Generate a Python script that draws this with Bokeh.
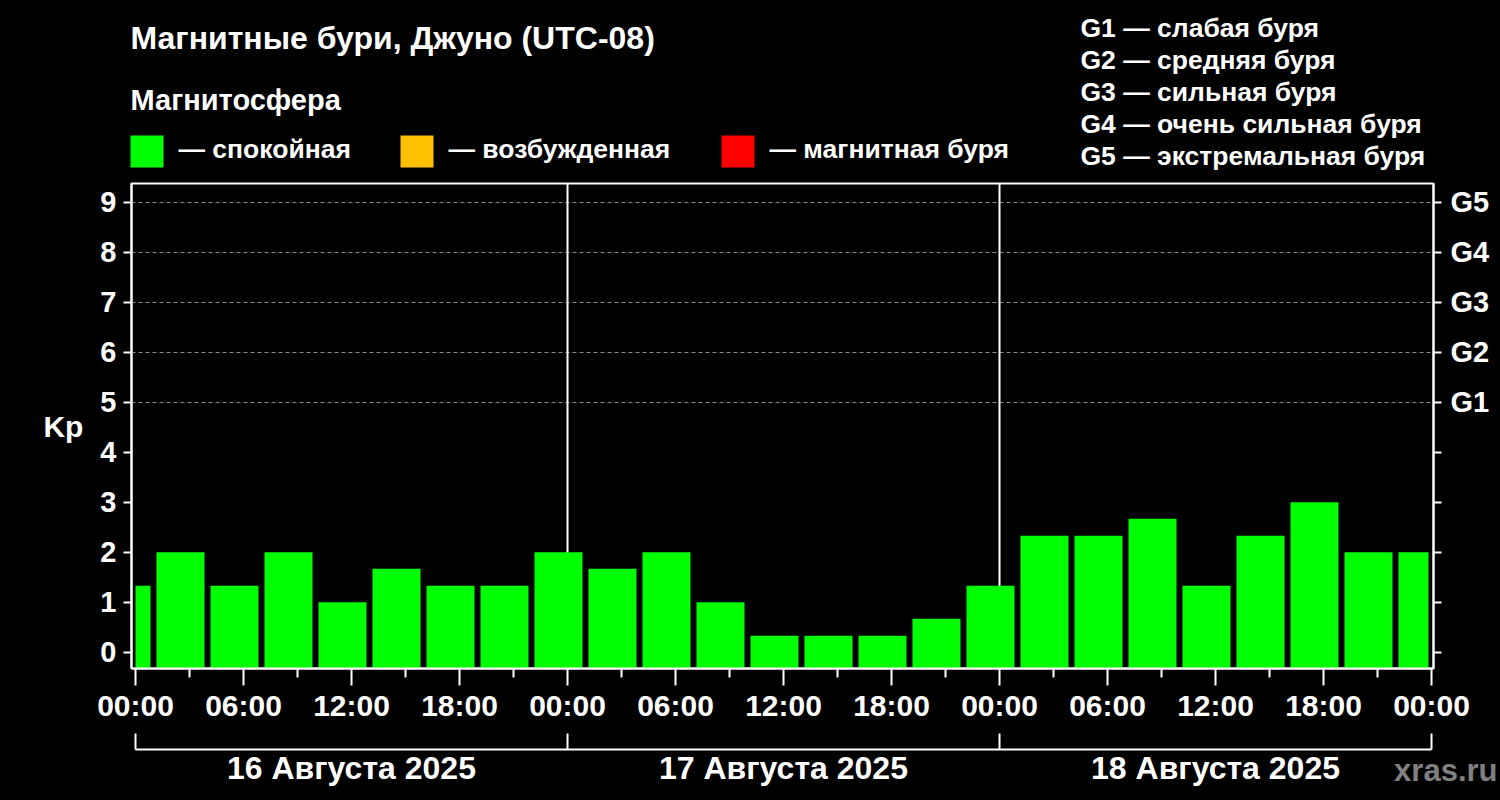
from bokeh.plotting import figure
from bokeh.layouts import column
from bokeh.models import (Range1d, LinearAxis, FixedTicker, Label, Span,
                          ColumnDataSource, Grid)
from bokeh.core.properties import value
from bokeh.embed import file_html
from bokeh.resources import INLINE

# ---------------- data ----------------
bar_start_hours = [-2, 1, 4, 7, 10, 13, 16, 19, 22,
                   25, 28, 31, 34, 37, 40, 43, 46,
                   49, 52, 55, 58, 61, 64, 67, 70]
kp_values = [1.33, 2.0, 1.33, 2.0, 1.0, 1.67, 1.33, 1.33, 2.0,
             1.67, 2.0, 1.0, 0.33, 0.33, 0.33, 0.67, 1.33,
             2.33, 2.33, 2.67, 1.33, 2.33, 3.0, 2.0, 2.0]
interval_hours = 3
hour_ticks = [0, 6, 12, 18, 24, 30, 36, 42, 48, 54, 60, 66, 72]
hour_labels = ["00:00", "06:00", "12:00", "18:00",
               "00:00", "06:00", "12:00", "18:00",
               "00:00", "06:00", "12:00", "18:00", "00:00"]
day_bounds = [0, 24, 48, 72]
day_labels = ["16 Августа 2025", "17 Августа 2025", "18 Августа 2025"]
kp_ticks = [0, 1, 2, 3, 4, 5, 6, 7, 8, 9]
g_levels = [5, 6, 7, 8, 9]
g_labels = ["G1", "G2", "G3", "G4", "G5"]
g_descriptions = ["G1 — слабая буря", "G2 — средняя буря", "G3 — сильная буря",
                  "G4 — очень сильная буря", "G5 — экстремальная буря"]
title_text = "Магнитные бури, Джуно (UTC-08)"
subtitle_text = "Магнитосфера"
legend_labels = ["— спокойная", "— возбужденная", "— магнитная буря"]
legend_colors = ["#00ff00", "#ffc000", "#ff0000"]
watermark = "xras.ru"

FONT = "Liberation Sans"
WHITE = "white"
BLACK = "black"
W = 1500
HEADER_H = 175
FRAME_L, FRAME_W, FRAME_H = 131, 1302, 485
MAIN_TOP, MAIN_BOTTOM = 8, 60
FOOTER_TOP = HEADER_H + MAIN_TOP + FRAME_H + MAIN_BOTTOM
FOOTER_H = 800 - FOOTER_TOP
BASELINE_FIX = 0.4   # em; bokeh's alphabetic anchor sits lower than the true baseline

# ---------------- derived ----------------
gap = 1.0 / 6.0
x_lo, x_hi = day_bounds[0], day_bounds[-1]
lefts = [max(s + gap, x_lo) for s in bar_start_hours]
rights = [min(s + interval_hours - gap, x_hi - gap) for s in bar_start_hours]
x_start, x_end = -0.222, 72.111
y_start, y_end = -0.326, 9.374


def kp_color(v):
    if v >= 5:
        return legend_colors[2]
    if v >= 4:
        return legend_colors[1]
    return legend_colors[0]


def no_align(f):
    if "frame_align" in f.properties():
        f.frame_align = False
    return f


def blank_fig(height, x_range, y_range):
    f = figure(width=W, height=height, x_range=x_range, y_range=y_range,
               x_axis_type=None, y_axis_type=None,
               output_backend="svg", toolbar_location=None,
               background_fill_color=BLACK, border_fill_color=BLACK,
               min_border=0, min_border_left=0, min_border_right=0,
               min_border_top=0, min_border_bottom=0)
    f.outline_line_color = None
    f.xgrid.visible = False
    f.ygrid.visible = False
    return no_align(f)


def txt(f, xs, ys, texts, size, color=WHITE, align="left"):
    fix = BASELINE_FIX * size
    f.text(x=xs, y=[y - fix for y in ys], text=texts, text_color=color,
           text_font=value(FONT), text_font_style="bold",
           text_font_size=f"{size}px", text_align=align,
           text_baseline="alphabetic")


# ---------------- header (pixel coordinates) ----------------
header = blank_fig(HEADER_H, Range1d(0, W), Range1d(HEADER_H, 0))
txt(header, [130], [50], [title_text], 32)
txt(header, [130], [111], [subtitle_text], 29)
sq_left = [130, 400, 721]
header.quad(left=sq_left, right=[v + 33 for v in sq_left],
            top=[135] * 3, bottom=[167] * 3,
            fill_color=legend_colors, line_color=None)
txt(header, [v + 48 for v in sq_left], [159] * 3, legend_labels, 26.5)
txt(header, [1080] * 5, [38, 70, 102, 134, 166], g_descriptions, 26.5)

# ---------------- main chart ----------------
src = ColumnDataSource(dict(left=lefts, right=rights, top=kp_values,
                            bottom=[y_start] * len(kp_values),
                            color=[kp_color(v) for v in kp_values]))

p = figure(frame_width=FRAME_W, frame_height=FRAME_H,
           x_range=Range1d(x_start, x_end), y_range=Range1d(y_start, y_end),
           x_axis_type=None, y_axis_type=None,
           output_backend="svg", toolbar_location=None,
           background_fill_color=BLACK, border_fill_color=BLACK,
           min_border_left=FRAME_L, min_border_right=W - FRAME_L - FRAME_W,
           min_border_top=MAIN_TOP, min_border_bottom=MAIN_BOTTOM)
no_align(p)
p.outline_line_color = WHITE
p.outline_line_width = 2
p.outline_line_alpha = 1.0

p.add_layout(Grid(dimension=1, ticker=FixedTicker(ticks=g_levels),
                  grid_line_color="#8c8c8c", grid_line_dash="4 3",
                  grid_line_width=1))

for d in day_bounds[1:-1]:
    p.add_layout(Span(location=d, dimension="height", line_color=WHITE,
                      line_width=2, level="underlay"))

p.quad(left="left", right="right", top="top", bottom="bottom",
       fill_color="color", line_color=None, source=src)


def style_axis(ax, size):
    ax.axis_line_color = WHITE
    ax.axis_line_width = 2
    ax.major_tick_line_color = WHITE
    ax.major_tick_line_width = 2
    ax.minor_tick_line_color = WHITE
    ax.minor_tick_line_width = 2
    ax.major_label_text_color = WHITE
    ax.major_label_text_font = FONT
    ax.major_label_text_font_style = "bold"
    ax.major_label_text_font_size = size
    ax.major_tick_in = 0
    ax.minor_tick_in = 0


la = LinearAxis(ticker=FixedTicker(ticks=kp_ticks))
style_axis(la, "29px")
la.major_tick_out = 8
la.major_label_standoff = 7
la.axis_label = "Kp"
la.axis_label_text_color = WHITE
la.axis_label_text_font = FONT
la.axis_label_text_font_style = "bold"
la.axis_label_text_font_size = "30px"
la.axis_label_standoff = 14
if "axis_label_orientation" in la.properties():
    la.axis_label_orientation = "horizontal"
p.add_layout(la, "left")

ra = LinearAxis(ticker=FixedTicker(ticks=kp_ticks),
                major_label_overrides={k: (g_labels[g_levels.index(k)] if k in g_levels else "")
                                       for k in kp_ticks})
style_axis(ra, "29px")
ra.major_tick_out = 8
ra.major_label_standoff = 9
p.add_layout(ra, "right")

minor_hours = [(a + b) / 2 for a, b in zip(hour_ticks[:-1], hour_ticks[1:])]
ha = LinearAxis(ticker=FixedTicker(ticks=hour_ticks, minor_ticks=minor_hours),
                major_label_overrides={h: t for h, t in zip(hour_ticks, hour_labels)})
style_axis(ha, "30px")
ha.major_tick_out = 17
ha.minor_tick_out = 9
ha.major_label_standoff = 3
p.add_layout(ha, "below")

# ---------------- footer (day brackets, same hour scale) ----------------
px_per_hour = FRAME_W / (x_end - x_start)
fx_range = Range1d(x_start - FRAME_L / px_per_hour,
                   x_start + (W - FRAME_L) / px_per_hour)
footer = blank_fig(FOOTER_H, fx_range, Range1d(800, FOOTER_TOP))
footer.segment(x0=[day_bounds[0]], x1=[day_bounds[-1]], y0=[749], y1=[749],
               line_color=WHITE, line_width=2)
footer.segment(x0=day_bounds, x1=day_bounds, y0=[749] * len(day_bounds),
               y1=[733] * len(day_bounds), line_color=WHITE, line_width=2)
day_centers = [(a + b) / 2 for a, b in zip(day_bounds[:-1], day_bounds[1:])]
txt(footer, day_centers, [780] * 3, day_labels, 32, align="center")
footer.add_layout(Label(x=1497, y=782 - BASELINE_FIX * 31, x_units="screen",
                        y_units="data", text=watermark, text_color="#808080",
                        text_font=FONT, text_font_style="bold",
                        text_font_size="31px", text_align="right",
                        text_baseline="alphabetic"))

layout = column(header, p, footer, spacing=0)
layout.styles = {"background-color": "black"}
open("out.html", "w").write(file_html(layout, INLINE))
